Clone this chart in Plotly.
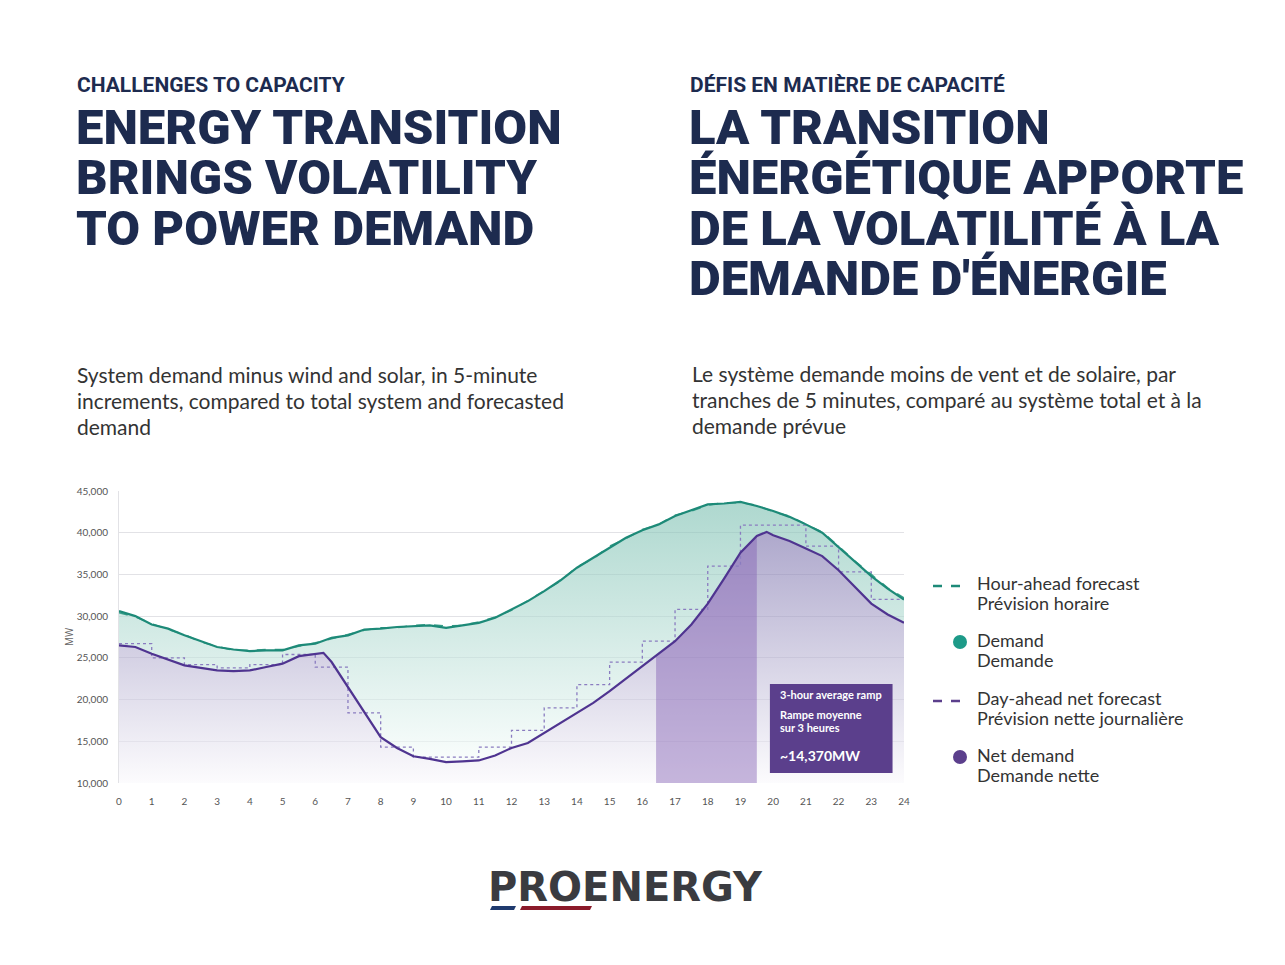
import plotly.graph_objects as go
import numpy as np

hours = [i * 0.5 for i in range(49)]
demand = [30600,30000,29000,28500,27700,27000,26300,26000,25800,25900,25900,26500,26700,27400,27700,28400,
          28500,28700,28800,28900,28600,28900,29200,29800,30800,31800,33000,34300,35800,37000,38300,39400,
          40300,41000,42000,42700,43400,43500,43700,43200,42600,41900,41000,40000,38300,36500,34800,33300,32000]
hour_ahead = [30400,29900,29100,28400,27800,26900,26400,25900,25900,26000,26000,26400,26800,27300,27800,28300,
              28600,28600,28900,29000,28800,28900,29300,29900,30700,31900,33100,34200,35900,36900,38400,39300,
              40400,41000,42100,42600,43300,43600,43600,43300,42500,42000,41000,40100,38400,36600,35000,33400,32200]
net_x = [0,0.5,1,1.5,2,2.5,3,3.5,4,4.5,5,5.5,6,6.25,6.5,7,7.5,8,8.5,9,9.5,10,10.5,11,11.5,12,12.5,13,13.5,
         14,14.5,15,15.5,16,16.5,17,17.5,18,18.5,19,19.5,19.8,20,20.5,21,21.5,22,22.5,23,23.5,24]
net = [26500,26300,25500,24800,24100,23800,23500,23400,23500,23900,24300,25200,25500,25600,24500,21500,18500,
       15500,14200,13200,12900,12500,12600,12700,13300,14200,14800,16000,17300,18400,19600,21000,22500,24000,
       25400,27000,29000,31500,34500,37600,39600,40100,39700,39000,38100,37200,35500,33500,31500,30200,29200]
da_x = list(range(25))
day_ahead = [26700,25000,24200,23800,24200,25400,23900,18400,14300,13100,13100,14300,16300,19000,21800,24500,
             27000,30800,36000,40900,40900,38400,35300,32000,32000]
ramp_start, ramp_end = 16.42, 19.5

OFF = 8
L, R, T, B = 119, 904, 491, 783
def px(x): return (x - L) / (R - L)
def py(y): return (B - y) / (B - T)

fig = go.Figure()
fig.add_trace(go.Scatter(x=hours, y=[10000]*len(hours), mode="lines", line=dict(width=0), showlegend=False, hoverinfo="skip"))
fig.add_trace(go.Scatter(x=net_x, y=net, mode="lines", line=dict(width=0), fill="tonexty",
                         fillgradient=dict(type="vertical", colorscale=[[0, "rgba(250,249,252,0.6)"], [1, "rgba(120,110,170,0.6)"]]),
                         showlegend=False, hoverinfo="skip"))
fig.add_trace(go.Scatter(x=hours, y=demand, mode="lines", line=dict(width=0), fill="tonexty",
                         fillgradient=dict(type="vertical", colorscale=[[0, "rgba(245,252,250,0.6)"], [1, "rgba(120,190,175,0.6)"]]),
                         showlegend=False, hoverinfo="skip"))
rx = [ramp_start] + [x for x in net_x if ramp_start < x < ramp_end] + [ramp_end]
ry = list(np.interp(rx, net_x, net))
fig.add_trace(go.Scatter(x=[ramp_start] + rx + [ramp_end], y=[10000] + ry + [10000], mode="lines", line=dict(width=0),
                         fill="toself", fillcolor="rgba(130,95,180,0.45)", showlegend=False, hoverinfo="skip"))
fig.add_trace(go.Scatter(x=da_x, y=day_ahead, mode="lines", line=dict(color="#8a7cc0", width=1.3, dash="dot", shape="hv"), showlegend=False))
fig.add_trace(go.Scatter(x=hours, y=hour_ahead, mode="lines", line=dict(color="#3aa08a", width=1.5, dash="dash"), showlegend=False))
fig.add_trace(go.Scatter(x=hours, y=demand, mode="lines", line=dict(color="#1d8a78", width=2.2), showlegend=False))
fig.add_trace(go.Scatter(x=net_x, y=net, mode="lines", line=dict(color="#4f3490", width=2.2), showlegend=False))

shapes = [dict(type="rect", x0=19.9, x1=23.65, y0=11200, y1=21870, xref="x", yref="y", fillcolor="#5b3f8c", line=dict(width=0))]
ann = []
def box(y, t, size):
    ann.append(dict(x=20.15, y=y, xref="x", yref="y", text=t, xanchor="left", yanchor="middle", showarrow=False,
                    font=dict(size=size, color="white", family="Lato", weight=700)))
box(20550, "3-hour average ramp", 11)
box(18200, "Rampe moyenne", 11)
box(16650, "sur 3 heures", 11)
box(13300, "~14,370MW", 14)

def text(x, y, t, size, color="#1d2b4f", family="Lato", weight=None):
    ann.append(dict(x=px(x), y=py(y), xref="paper", yref="paper", text=t, xanchor="left", yanchor="middle", align="left",
                    showarrow=False, font=dict(size=size, color=color, family=family, weight=weight or "normal")))
text(75, 85, "CHALLENGES TO CAPACITY", 21, family="Roboto", weight=700)
for i, t in enumerate(["ENERGY TRANSITION", "BRINGS VOLATILITY", "TO POWER DEMAND"]):
    text(74, 128 + 50 * i, t, 49, family="Roboto", weight=900)
text(688, 85, "DÉFIS EN MATIÈRE DE CAPACITÉ", 21, family="Roboto", weight=700)
for i, t in enumerate(["LA TRANSITION", "ÉNERGÉTIQUE APPORTE", "DE LA VOLATILITÉ À LA", "DEMANDE D'ÉNERGIE"]):
    text(687, 128 + 50 * i, t, 49, family="Roboto", weight=900)
for i, t in enumerate(["System demand minus wind and solar, in 5-minute", "increments, compared to total system and forecasted", "demand"]):
    text(75, 374 + 26 * i, t, 21, color="#333")
for i, t in enumerate(["Le système demande moins de vent et de solaire, par", "tranches de 5 minutes, comparé au système total et à la", "demande prévue"]):
    text(690, 373 + 26 * i, t, 21, color="#333")
legend = [(583, "Hour-ahead forecast", "Prévision horaire", "dash", "#1d8a78"),
          (640, "Demand", "Demande", "dot", "#1d9a88"),
          (698, "Day-ahead net forecast", "Prévision nette journalière", "dash", "#5b3f8c"),
          (755, "Net demand", "Demande nette", "dot", "#5b3f8c")]
for y, t1, t2, kind, c in legend:
    text(975, y, t1, 18, color="#333")
    text(975, y + 20, t2, 18, color="#333")
    if kind == "dash":
        shapes.append(dict(type="line", xref="paper", yref="paper", x0=px(933), x1=px(965), y0=py(y + 3), y1=py(y + 3),
                           line=dict(color=c, width=2.5, dash="dash")))
    else:
        shapes.append(dict(type="circle", xref="paper", yref="paper", x0=px(953), x1=px(967), y0=py(y + 9), y1=py(y - 5),
                           fillcolor=c, line=dict(width=0)))
ann.append(dict(x=px(486), y=py(887), xref="paper", yref="paper", text="<b>PROENERGY</b>", showarrow=False,
                font=dict(size=40, color="#3a3b40", family="DejaVu Sans"), xanchor="left", yanchor="middle"))
shapes.append(dict(type="path", xref="paper", yref="paper", path=f"M {px(492)},{py(906)} L {px(516)},{py(906)} L {px(514)},{py(910)} L {px(490)},{py(910)} Z", fillcolor="#1f3a6e", line=dict(width=0)))
shapes.append(dict(type="path", xref="paper", yref="paper", path=f"M {px(522)},{py(906)} L {px(592)},{py(906)} L {px(590)},{py(910)} L {px(520)},{py(910)} Z", fillcolor="#8b1a2a", line=dict(width=0)))
ann.append(dict(x=px(60), y=0.5, xref="paper", yref="paper", text="MW", textangle=-90, showarrow=False, font=dict(size=10, color="#666")))

fig.update_layout(width=1285, height=965, margin=dict(l=L - OFF, r=1285 - R + OFF, t=T - OFF, b=965 - B + OFF),
                  paper_bgcolor="white", plot_bgcolor="white", shapes=shapes, annotations=ann, showlegend=False,
                  xaxis=dict(range=[0, 24], tickvals=list(range(25)), showgrid=False, zeroline=False,
                             tickfont=dict(size=10, color="#555", family="Lato"), ticks="outside", ticklen=9,
                             tickcolor="rgba(0,0,0,0)", showline=False),
                  yaxis=dict(range=[10000, 45000], tickvals=list(range(10000, 45001, 5000)), tickformat=",",
                             gridcolor="#e2e2e6", zeroline=False, tickfont=dict(size=10, color="#555", family="Lato"),
                             showline=True, linecolor="#e2e2e6", ticks="outside", ticklen=8, tickcolor="white"))
fig.write_html("out.html")
